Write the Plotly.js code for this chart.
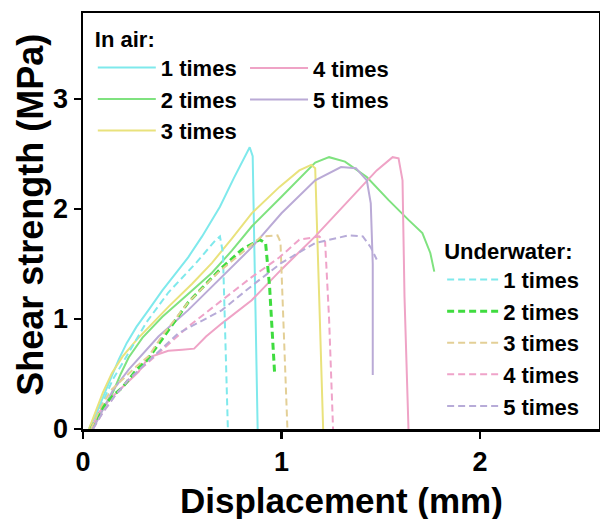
<!DOCTYPE html>
<html>
<head>
<meta charset="utf-8">
<script src="https://cdn.plot.ly/plotly-3.0.1.min.js"></script>
<style>html,body{margin:0;padding:0;background:#fff;}#chart{width:600px;height:519px;}</style>
</head>
<body>
<div id="chart"></div>
<script>
// ---- Data ----
const seriesNames = ["1 times", "2 times", "3 times", "4 times", "5 times"];

const air1X = [0.03,0.07,0.11,0.15,0.18,0.22,0.27,0.33,0.40,0.47,0.53,0.60,0.69,0.76,0.84,0.855,0.865,0.88];
const air1Y = [0,0.15,0.33,0.50,0.63,0.78,0.93,1.08,1.26,1.42,1.56,1.75,2.02,2.28,2.56,2.48,1.5,0];

const air2X = [0.04,0.08,0.12,0.15,0.19,0.23,0.30,0.40,0.52,0.65,0.75,0.85,1.00,1.10,1.17,1.24,1.32,1.43,1.54,1.64,1.71,1.75,1.77];
const air2Y = [0,0.12,0.25,0.33,0.50,0.65,0.83,1.02,1.21,1.42,1.62,1.84,2.11,2.29,2.42,2.47,2.43,2.29,2.08,1.90,1.78,1.60,1.43];

const air3X = [0.03,0.06,0.10,0.146,0.20,0.27,0.35,0.43,0.55,0.65,0.75,0.85,0.99,1.09,1.15,1.17,1.19,1.21];
const air3Y = [0,0.15,0.33,0.51,0.66,0.81,0.96,1.11,1.32,1.51,1.73,1.96,2.20,2.35,2.40,2.37,1.2,0];

const air4X = [0.04,0.08,0.14,0.20,0.28,0.33,0.43,0.50,0.56,0.62,0.70,0.85,1.00,1.17,1.34,1.48,1.56,1.59,1.61,1.62,1.64];
const air4Y = [0,0.15,0.28,0.38,0.52,0.65,0.71,0.72,0.73,0.84,0.96,1.17,1.45,1.75,2.08,2.35,2.47,2.46,2.26,1.2,0];

const air5X = [0.05,0.10,0.15,0.23,0.30,0.38,0.53,0.70,0.85,1.00,1.17,1.30,1.375,1.43,1.45,1.46,1.46];
const air5Y = [0,0.18,0.35,0.54,0.68,0.84,1.08,1.38,1.65,1.96,2.26,2.38,2.37,2.26,2.05,1.5,0.49];

const water1X = [0.04,0.10,0.15,0.20,0.25,0.32,0.43,0.57,0.67,0.69,0.705,0.73];
const water1Y = [0,0.25,0.45,0.60,0.76,0.97,1.24,1.51,1.72,1.75,1.6,0];

const water2X = [0.04,0.10,0.15,0.20,0.27,0.32,0.40,0.53,0.685,0.80,0.89,0.92,0.94,0.955,0.965];
const water2Y = [0,0.20,0.30,0.38,0.54,0.62,0.82,1.15,1.44,1.63,1.72,1.69,1.3,0.8,0.52];

const water3X = [0.04,0.09,0.14,0.20,0.27,0.33,0.40,0.53,0.68,0.80,0.90,0.98,0.995,1.00,1.03];
const water3Y = [0,0.20,0.35,0.45,0.57,0.66,0.85,1.15,1.42,1.60,1.75,1.76,1.70,1.45,0];

const water4X = [0.05,0.10,0.16,0.23,0.30,0.40,0.53,0.70,0.85,0.99,1.09,1.19,1.22,1.24,1.26];
const water4Y = [0,0.15,0.30,0.45,0.56,0.72,0.93,1.17,1.38,1.56,1.72,1.75,1.70,1.0,0];

const water5X = [0.05,0.10,0.16,0.23,0.32,0.48,0.70,0.85,1.00,1.17,1.34,1.41,1.45,1.48];
const water5Y = [0,0.15,0.30,0.45,0.60,0.87,1.08,1.30,1.51,1.69,1.76,1.75,1.65,1.54];

const xTicks = [0, 1, 2];
const yTicks = [0, 1, 2, 3];
const xTitle = "Displacement (mm)";
const yTitle = "Shear strength (MPa)";

// ---- Styles ----
const airColors = ["#7fe9ec", "#7fe27f", "#e9e27c", "#efa3c6", "#baaad6"];
const waterColors = ["#7fe9ec", "#3fdc3f", "#e3cf96", "#efa3c9", "#b7abd8"];
const waterWidths = [2, 3, 2, 2, 2];

const airX = [air1X, air2X, air3X, air4X, air5X];
const airY = [air1Y, air2Y, air3Y, air4Y, air5Y];
const waterX = [water1X, water2X, water3X, water4X, water5X];
const waterY = [water1Y, water2Y, water3Y, water4Y, water5Y];

const traces = [];
for (let i = 0; i < 5; i++) {
  traces.push({
    x: airX[i], y: airY[i], name: seriesNames[i], mode: "lines", type: "scatter",
    line: {color: airColors[i], width: 2},
    legend: i < 3 ? "legend" : "legend2"
  });
}
for (let i = 0; i < 5; i++) {
  traces.push({
    x: waterX[i], y: waterY[i], name: seriesNames[i], mode: "lines", type: "scatter",
    line: {color: waterColors[i], width: waterWidths[i], dash: "7px,4px"},
    legend: "legend3"
  });
}

const FAM = "Liberation Sans, Arial, sans-serif";
const legFont = {family: FAM, size: 22, color: "#000", weight: "bold"};
const layout = {
  width: 600, height: 519,
  margin: {l: 83, r: 1, t: 13, b: 90},
  paper_bgcolor: "#fff", plot_bgcolor: "#fff",
  font: {family: FAM, color: "#000", weight: "bold"},
  xaxis: {
    range: [0, 2.6], tickvals: xTicks, ticktext: xTicks.map(String),
    showline: true, mirror: true, linecolor: "#000", linewidth: 2.5,
    ticks: "outside", ticklen: 7, tickwidth: 2.5, tickcolor: "#000",
    showgrid: false, zeroline: false,
    tickfont: {size: 27, weight: "bold"}
  },
  yaxis: {
    range: [0, 3.78], tickvals: yTicks, ticktext: yTicks.map(String),
    showline: true, mirror: true, linecolor: "#000", linewidth: 2.5,
    ticks: "outside", ticklen: 7, tickwidth: 2.5, tickcolor: "#000",
    showgrid: false, zeroline: false,
    tickfont: {size: 27, weight: "bold"}
  },
  annotations: [
    {text: xTitle, xref: "paper", yref: "paper", x: 0.5, y: -0.171,
     xanchor: "center", yanchor: "middle", showarrow: false,
     font: {family: FAM, size: 35, color: "#000", weight: "bold"}},
    {text: yTitle, xref: "paper", yref: "paper", x: -0.1008, y: 0.515,
     xanchor: "center", yanchor: "middle", showarrow: false, textangle: -90,
     font: {family: FAM, size: 36, color: "#000", weight: "bold"}}
  ],
  showlegend: true,
  legend: {
    x: 0.019, y: 0.988, xanchor: "left", yanchor: "top",
    bgcolor: "rgba(0,0,0,0)", borderwidth: 0, font: legFont,
    title: {text: "In air:", font: legFont}, itemwidth: 58, tracegroupgap: 0
  },
  legend2: {
    x: 0.314, y: 0.918, xanchor: "left", yanchor: "top",
    bgcolor: "rgba(0,0,0,0)", borderwidth: 0, font: legFont, itemwidth: 58, tracegroupgap: 0
  },
  legend3: {
    x: 0.696, y: 0.478, xanchor: "left", yanchor: "top",
    bgcolor: "rgba(0,0,0,0)", borderwidth: 0, font: legFont,
    title: {text: "Underwater:", font: legFont}, itemwidth: 51, tracegroupgap: 0
  }
};

Plotly.newPlot("chart", traces, layout, {displayModeBar: false, staticPlot: true});
</script>
</body>
</html>
